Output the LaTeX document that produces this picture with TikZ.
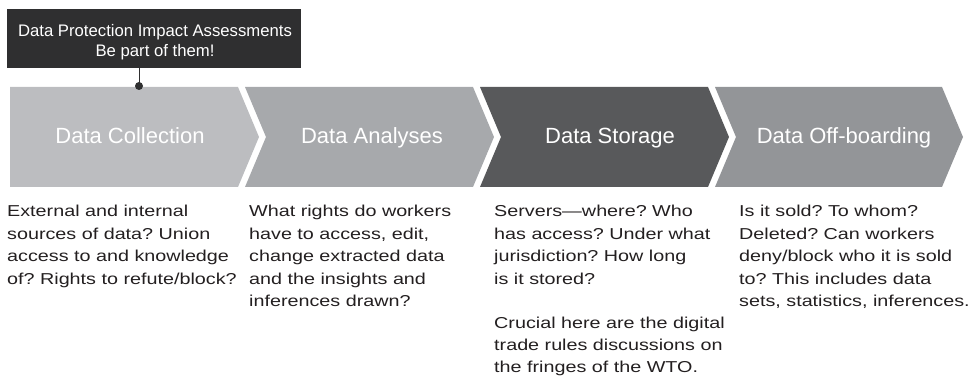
\documentclass[tikz,border=0pt]{standalone}
\usepackage{fontspec}
\setmainfont{Liberation Sans}
\newfontfamily\bodyfont[FakeStretch=1.25,Ligatures=TeX]{Liberation Sans}
\definecolor{chA}{HTML}{BCBDC0}
\definecolor{chB}{HTML}{A7A9AC}
\definecolor{chC}{HTML}{58595B}
\definecolor{chD}{HTML}{939598}
\definecolor{boxdark}{HTML}{2F2F30}
\definecolor{bodytext}{HTML}{231F20}
\frenchspacing
\begin{document}
\begin{tikzpicture}[x=1pt,y=-1pt,
  chlabel/.style={anchor=base,text=white,inner sep=0pt,font=\fontsize{22}{26}\selectfont},
  bodytxt/.style={anchor=north west,inner sep=0pt,align=left,text=bodytext,font=\frenchspacing\bodyfont\fontsize{15.8}{22.4}\selectfont},
  calloutbox/.style={fill=boxdark,draw=none,minimum width=294pt,minimum height=59pt,inner sep=0pt},
  callouttxt/.style={anchor=north,inner sep=0pt,align=center,text=white,font=\fontsize{16.7}{20}\selectfont}
]
\useasboundingbox (0,0) rectangle (970,377);

% chevrons
\fill[chA] (10,87) -- (238,87) -- (259,137) -- (238,187) -- (10,187) -- cycle;
\fill[chB] (245,87) -- (473,87) -- (494,137) -- (473,187) -- (245,187) -- (266,137) -- cycle;
\fill[chC] (480,87) -- (708,87) -- (729,137) -- (708,187) -- (480,187) -- (501,137) -- cycle;
\fill[chD] (715,87) -- (942,87) -- (963,137) -- (942,187) -- (715,187) -- (736,137) -- cycle;

\node[chlabel] (lab1) at (130,144) {Data Collection};
\node[chlabel] (lab2) at (372,144) {Data Analyses};
\node[chlabel] (lab3) at (610,144) {Data Storage};
\node[chlabel] (lab4) at (844,144) {Data Off-boarding};

% callout
\node[calloutbox] (callout) at (154,38.5) {};
\node[callouttxt] (callouttext) at (155,24) {Data Protection Impact Assessments\\Be part of them!};
\coordinate (dot) at (139,86);
\draw[boxdark,line width=1pt] (callout.south -| dot) -- (dot);
\fill[boxdark] (dot) circle (4pt);

% body texts
\node[bodytxt] (t1) at (7,205.2) {External and internal\\sources of data? Union\\access to and knowledge\\of? Rights to refute/block?};
\node[bodytxt] (t2) at (249,205.2) {What rights do workers\\have to access, edit,\\change extracted data\\and the insights and\\inferences drawn?};
\node[bodytxt] (t3) at (494,205.2) {Servers—where? Who\\has access? Under what\\jurisdiction? How long\\is it stored?};
\node[bodytxt] (t3b) at (494,316.4) {Crucial here are the digital\\trade rules discussions on\\the fringes of the WTO.};
\node[bodytxt] (t4) at (739,205.2) {Is it sold? To whom?\\Deleted? Can workers\\deny/block who it is sold\\to? This includes data\\sets, statistics, inferences.};
\end{tikzpicture}
\end{document}
